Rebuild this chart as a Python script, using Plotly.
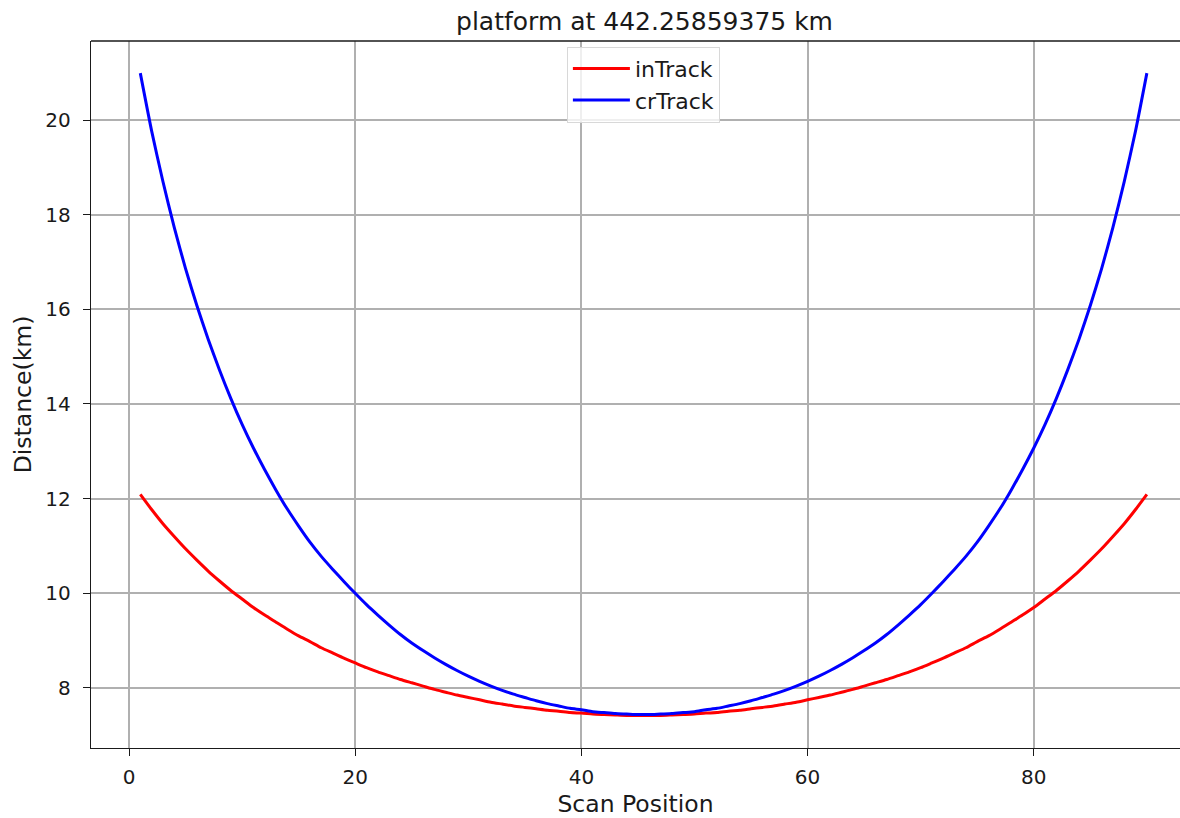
import plotly.graph_objects as go

# Scan positions 1..90
scan_pos = list(range(1, 91))

in_track = [
    12.09, 11.77, 11.47, 11.20, 10.94, 10.70, 10.47, 10.26, 10.06, 9.88,
    9.70, 9.54, 9.39, 9.24, 9.10, 8.98, 8.85, 8.74, 8.63, 8.53,
    8.43, 8.34, 8.26, 8.18, 8.11, 8.04, 7.97, 7.91, 7.85, 7.80,
    7.75, 7.70, 7.66, 7.62, 7.59, 7.56, 7.53, 7.51, 7.48, 7.47,
    7.45, 7.44, 7.43, 7.42, 7.42,
    7.42, 7.42, 7.43, 7.44, 7.45, 7.47, 7.48, 7.51, 7.53, 7.56,
    7.59, 7.62, 7.66, 7.70, 7.75, 7.80, 7.85, 7.91, 7.97, 8.04,
    8.11, 8.18, 8.26, 8.34, 8.43, 8.53, 8.63, 8.74, 8.85, 8.98,
    9.10, 9.24, 9.39, 9.54, 9.70, 9.88, 10.06, 10.26, 10.47, 10.70,
    10.94, 11.20, 11.47, 11.77, 12.09,
]

cr_track = [
    20.99, 19.77, 18.70, 17.73, 16.86, 16.08, 15.37, 14.72, 14.12, 13.57,
    13.07, 12.61, 12.18, 11.78, 11.42, 11.08, 10.78, 10.51, 10.25, 10.00,
    9.76, 9.54, 9.33, 9.13, 8.95, 8.79, 8.64, 8.50, 8.37, 8.25,
    8.14, 8.04, 7.95, 7.87, 7.80, 7.73, 7.67, 7.62, 7.57, 7.54,
    7.50, 7.48, 7.46, 7.45, 7.44,
    7.44, 7.45, 7.46, 7.48, 7.50, 7.54, 7.57, 7.62, 7.67, 7.73,
    7.80, 7.87, 7.95, 8.04, 8.14, 8.25, 8.37, 8.50, 8.64, 8.79,
    8.95, 9.13, 9.33, 9.54, 9.76, 10.00, 10.25, 10.51, 10.78, 11.08,
    11.42, 11.78, 12.18, 12.61, 13.07, 13.57, 14.12, 14.72, 15.37, 16.08,
    16.86, 17.73, 18.70, 19.77, 20.99,
]

x_ticks = [0, 20, 40, 60, 80]
y_ticks = [8, 10, 12, 14, 16, 18, 20]

FONT = "DejaVu Sans"

fig = go.Figure()
fig.add_trace(go.Scatter(x=scan_pos, y=in_track, mode="lines", name="inTrack",
                         line=dict(color="#ff0000", width=3, shape="spline", smoothing=0.6)))
fig.add_trace(go.Scatter(x=scan_pos, y=cr_track, mode="lines", name="crTrack",
                         line=dict(color="#0000ff", width=3, shape="spline", smoothing=0.6)))

axis_common = dict(
    showgrid=True, gridcolor="#b0b0b0", gridwidth=1.7,
    zeroline=False, showline=True, linecolor="#1a1a1a", linewidth=1.4,
    ticks="outside", ticklen=7, tickwidth=1.4, tickcolor="#1a1a1a",
    tickfont=dict(family=FONT, size=20, color="#1a1a1a"),
    automargin=False,
)

fig.update_layout(
    width=1180, height=818,
    margin=dict(l=91, r=0, t=41, b=70),
    paper_bgcolor="white", plot_bgcolor="white",
    font=dict(family=FONT, color="#1a1a1a"),
    title=dict(text="platform at 442.25859375 km", x=0.5462, xanchor="center",
               y=0.9743, yanchor="middle", font=dict(family=FONT, size=25)),
    xaxis=dict(range=[-3.36, 92.93], tickvals=x_ticks, ticklabelstandoff=4,
               title=dict(text="Scan Position", font=dict(family=FONT, size=23.5), standoff=14),
               **axis_common),
    yaxis=dict(range=[6.732, 21.669], tickvals=y_ticks, ticklabelstandoff=8,
               title=dict(text="Distance(km)", font=dict(family=FONT, size=23.5), standoff=7),
               **axis_common),
    legend=dict(x=0.437, y=0.992, xanchor="left", yanchor="top", itemwidth=57,
                bgcolor="rgba(255,255,255,0.8)", bordercolor="#d8d8d8", borderwidth=1,
                font=dict(family=FONT, size=22)),
    shapes=[dict(type="line", xref="paper", yref="paper", x0=0, x1=1, y0=1, y1=1,
                 line=dict(color="#1a1a1a", width=1.4))],
)

fig.write_html(
    "out.html",
    config={"displayModeBar": False},
    post_script="document.body.style.margin='0';document.body.style.overflow='hidden';",
)
